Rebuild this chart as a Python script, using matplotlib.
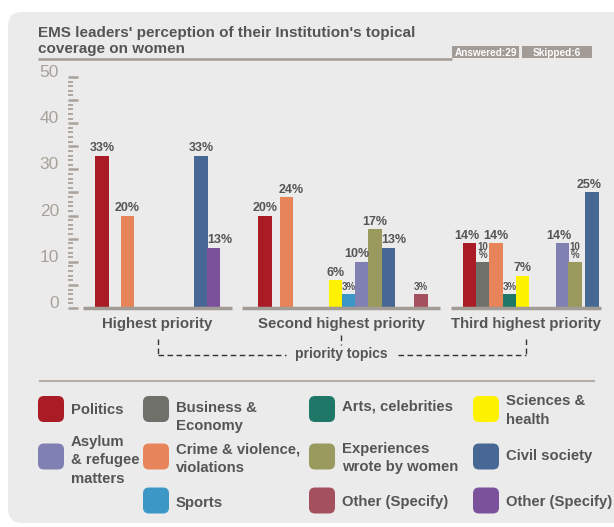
import matplotlib.pyplot as plt
from matplotlib.patches import FancyBboxPatch, Rectangle
from matplotlib.ticker import MultipleLocator, NullFormatter

plt.rcParams['font.family'] = ['Liberation Sans', 'DejaVu Sans']

# --- data -------------------------------------------------------------
groups = ['Highest priority', 'Second highest priority', 'Third highest priority']

highest_topics = ['politics', 'crime', 'civil', 'other_b']
highest_values = [33, 20, 33, 13]

second_topics = ['politics', 'crime', 'science', 'sports', 'asylum',
                 'experiences', 'civil', 'other_a']
second_values = [20, 24, 6, 3, 10, 17, 13, 3]

third_topics = ['politics', 'business', 'crime', 'arts', 'science',
                'asylum', 'experiences', 'civil']
third_values = [14, 10, 14, 3, 7, 14, 10, 25]

topic_names = {
    'politics': 'Politics',
    'business': 'Business &\nEconomy',
    'arts': 'Arts, celebrities',
    'science': 'Sciences &\nhealth',
    'asylum': 'Asylum\n& refugee\nmatters',
    'crime': 'Crime & violence,\nviolations',
    'experiences': 'Experiences\nwrote by women',
    'civil': 'Civil society',
    'sports': 'Sports',
    'other_a': 'Other (Specify)',
    'other_b': 'Other (Specify)',
}

answered = 29
skipped = 6

# --- styles -----------------------------------------------------------
colors = {
    'politics': '#a91b25',
    'business': '#6f706a',
    'arts': '#1f7768',
    'science': '#fff200',
    'asylum': '#8080b3',
    'crime': '#e8845a',
    'experiences': '#9a9a5e',
    'civil': '#476894',
    'sports': '#3d97c6',
    'other_a': '#a5505f',
    'other_b': '#7b519c',
}
txt_c = '#555555'
scale_c = '#a9a29b'
line_c = '#a39b95'

W, H = 614, 527
bar_w = 13.3
# bar centres (px) for each group
bar_x = [
    [102, 127.5, 201, 213.5],
    [265, 286.7, 335.3, 348.3, 361.7, 375, 388.3, 421],
    [469.7, 482.7, 496, 509.3, 522.7, 562.2, 575, 592],
]
# base line under each group
group_span = [(83, 232), (242, 440), (451, 601)]
# labels printed as "10 / %" stacked in a narrow bar
stacked = {(2, 1), (2, 6)}
# sideways shift (px) of some value labels so they don't collide
label_dx = {(0, 3): 6, (1, 1): 4, (1, 4): -5, (1, 6): 6,
            (2, 0): -3, (2, 5): -3.5, (2, 7): -2.5}

# legend: key, column, row, vertical nudge
legend_cols = [38, 143, 309, 473]
legend_rows = [409, 456.5, 500.5]
legend_items = [
    ('politics', 0, 0, 0), ('business', 1, 0, 6.5), ('arts', 2, 0, -4),
    ('science', 3, 0, 0), ('asylum', 0, 1, 2.5), ('crime', 1, 1, 0.5),
    ('experiences', 2, 1, 0), ('civil', 3, 1, -2), ('sports', 1, 2, 1.5),
    ('other_a', 2, 2, 0), ('other_b', 3, 2, 0),
]

fig = plt.figure(figsize=(W / 100, H / 100), dpi=100)

# page layer in pixel units, y downwards
deco = fig.add_axes([0, 0, 1, 1])
deco.set_xlim(0, W)
deco.set_ylim(H, 0)
deco.axis('off')


def put(x, ymid, s, size, pitch=None, **kw):
    """Write text (possibly several lines) with line centres around ymid."""
    lines = s.split('\n')
    pitch = pitch or size * 1.75
    y0 = ymid - pitch * (len(lines) - 1) / 2
    for i, ln in enumerate(lines):
        deco.text(x, y0 + i * pitch + 0.36 * size * 100 / 72, ln,
                  fontsize=size, va='baseline', **kw)


deco.add_patch(FancyBboxPatch((8, 12), 660, 511,
                              boxstyle='round,pad=0,rounding_size=14',
                              fc='#ebebeb', ec='none'))

# title block
put(38, 31, "EMS leaders' perception of their Institution's topical", 11,
    weight='bold', color=txt_c)
put(38, 48, 'coverage on women', 11, weight='bold', color=txt_c)
deco.plot([38, 452], [58.5, 58.5], color=line_c, lw=1.8,
          solid_capstyle='butt')
for x0, w, s in [(452, 67, f'Answered:{answered}'),
                 (522, 70, f'Skipped:{skipped}')]:
    deco.add_patch(Rectangle((x0, 46), w, 12, fc=line_c, ec='none'))
    put(x0 + w / 2, 52, s, 7.2, weight='bold', color='white', ha='center')

# --- bars -------------------------------------------------------------
ax = fig.add_axes([0, (H - 308) / H, 1, 231 / H])
ax.set_xlim(0, W)
ax.set_ylim(0, 50)
ax.patch.set_alpha(0)
for side in ['top', 'right', 'bottom', 'left']:
    ax.spines[side].set_visible(False)
ax.spines['left'].set_position(('data', 68))
ax.xaxis.set_visible(False)
ax.yaxis.set_major_locator(MultipleLocator(5))
ax.yaxis.set_minor_locator(MultipleLocator(1))
ax.yaxis.set_major_formatter(NullFormatter())
ax.tick_params(axis='y', which='major', direction='in', length=7.2,
               width=1.8, color=scale_c)
ax.tick_params(axis='y', which='minor', direction='in', length=3.6,
               width=1.3, color=scale_c)
for v in range(0, 51, 10):
    ax.text(59, v, str(v), ha='right', va='baseline', fontsize=12.5,
            color=scale_c)

all_topics = [highest_topics, second_topics, third_topics]
all_values = [highest_values, second_values, third_values]
for g, (tops, vals) in enumerate(zip(all_topics, all_values)):
    ax.bar(bar_x[g], vals, width=bar_w, color=[colors[t] for t in tops],
           zorder=2)
    for i, (x, v) in enumerate(zip(bar_x[g], vals)):
        dx = label_dx.get((g, i), 0) * 0.72
        if (g, i) in stacked:
            ax.annotate(f'{v}\n%', (x, v), xytext=(dx, 1),
                        textcoords='offset points', ha='center', va='bottom',
                        fontsize=7, weight='bold', color=txt_c,
                        linespacing=0.8)
        else:
            ax.annotate(f'{v}%', (x, v), xytext=(dx, 3.2),
                        textcoords='offset points', ha='center',
                        va='baseline', fontsize=7 if v <= 3 else 9,
                        weight='bold', color=txt_c)
    a, b = group_span[g]
    ax.plot([a, b], [0, 0], color=line_c, lw=2.5, solid_capstyle='butt',
            zorder=3, clip_on=False)
    put((a + b) / 2, 323, groups[g], 10.8, weight='bold', color=txt_c,
        ha='center')

# bracket joining the three groups
centres = [(a + b) / 2 for a, b in group_span]
dash = dict(color='#333333', lw=1, ls=(0, (4, 2.5)))
deco.plot([centres[0]] * 2, [339, 355], **dash)
deco.plot([centres[2]] * 2, [339, 355], **dash)
deco.plot([centres[1]] * 2, [335, 345], **dash)
deco.plot([centres[0], 286], [355, 355], **dash)
deco.plot([398, centres[2]], [355, 355], **dash)
put(centres[1], 353, 'priority topics', 10, weight='bold', color=txt_c,
    ha='center')

# --- legend -----------------------------------------------------------
deco.plot([40, 594], [381, 381], color='#b5ada6', lw=1.5)
for key, c, r, dy in legend_items:
    x0, yc = legend_cols[c], legend_rows[r]
    deco.add_patch(FancyBboxPatch((x0, yc - 13), 26, 26,
                                  boxstyle='round,pad=0,rounding_size=6',
                                  fc=colors[key], ec='none'))
    put(x0 + 33, yc + dy, topic_names[key], 10.7, pitch=18.5,
        weight='bold', color=txt_c)

fig.savefig('out.png', dpi=100, facecolor='white')
